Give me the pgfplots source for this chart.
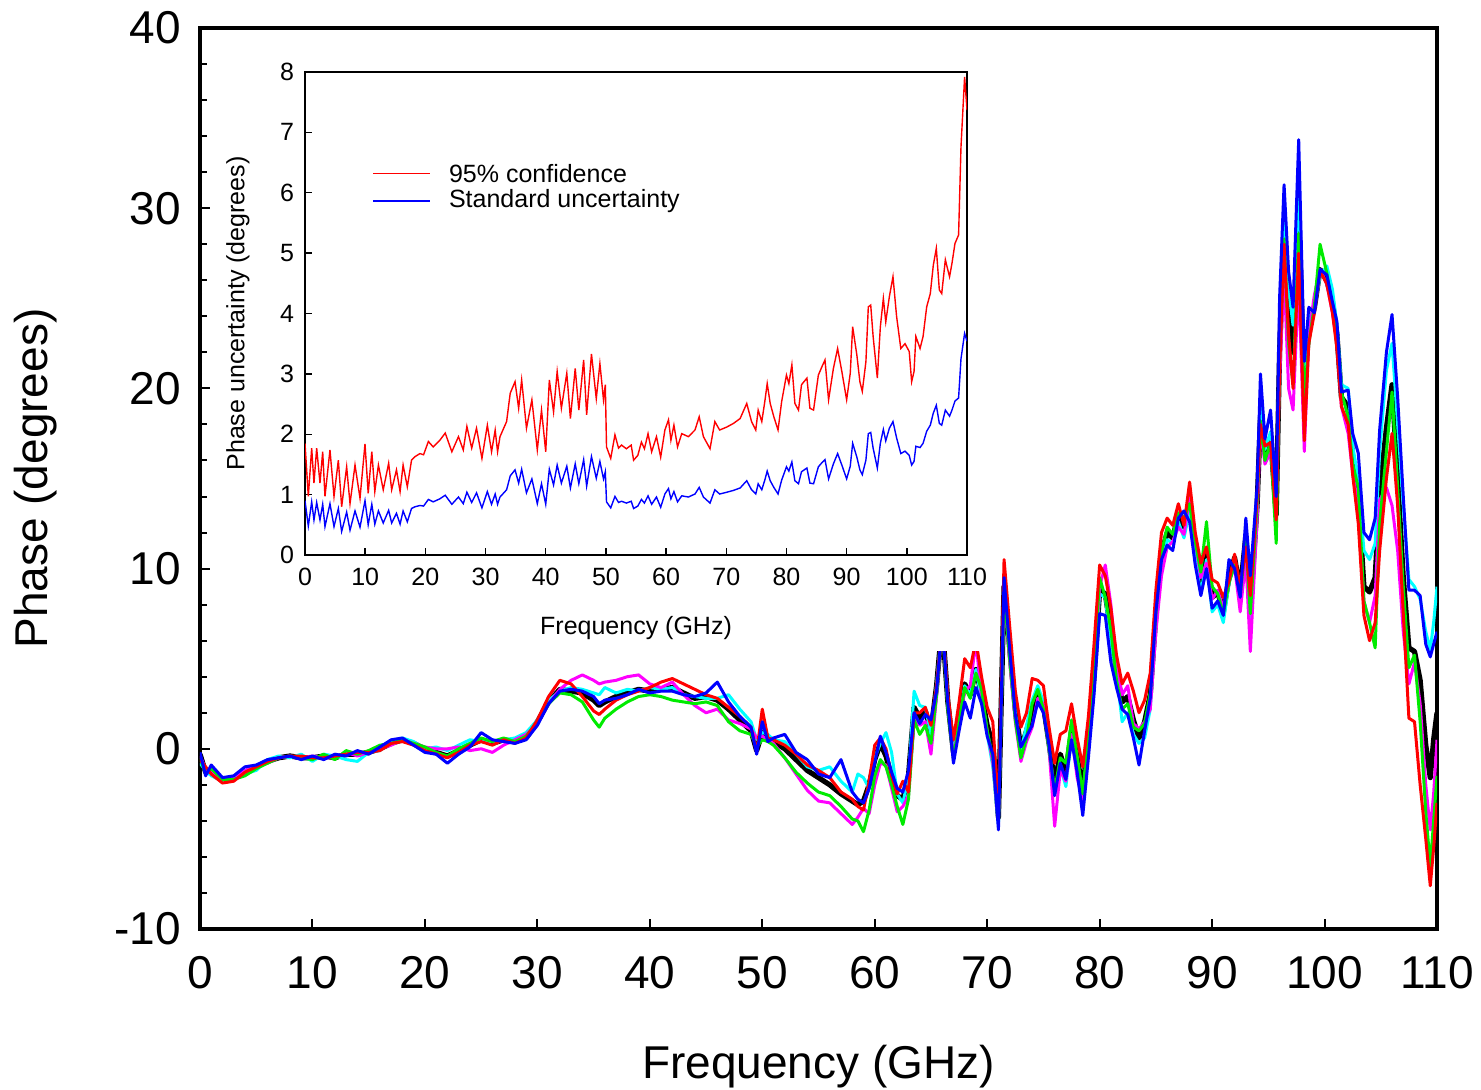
\documentclass[border=0pt]{standalone}
\usepackage{fontspec}
\setmainfont{Liberation Sans}
\usepackage{pgfplots}
\usepackage{pgfplotstable}
\pgfplotsset{compat=1.18}

\definecolor{lgreen}{RGB}{0,235,0}
\definecolor{pcyan}{RGB}{0,255,255}
\definecolor{pmag}{RGB}{255,0,255}
\definecolor{pred}{RGB}{255,0,0}
\definecolor{pblue}{RGB}{0,0,255}

% phase of the six measurements (k = mean, thick black)
\pgfplotstableread{
x k r g b c m
0 -0.3 -0.6 -0.5 -0.2 -0.8 -0.4
0.5 -1.3 -1.0 -1.4 -1.5 -1.2 -1.1
1 -1.2 -1.4 -1.1 -0.9 -1.5 -1.3
2 -1.7 -1.9 -1.7 -1.6 -1.8 -1.7
3 -1.6 -1.8 -1.7 -1.5 -1.6 -1.6
4 -1.3 -1.3 -1.5 -1.0 -1.4 -1.2
5 -1.0 -1.0 -1.1 -0.9 -1.2 -1.0
6 -0.7 -0.7 -0.8 -0.6 -0.6 -0.8
7 -0.5 -0.5 -0.5 -0.5 -0.4 -0.5
8 -0.4 -0.4 -0.4 -0.4 -0.5 -0.4
9 -0.5 -0.4 -0.5 -0.6 -0.3 -0.5
10 -0.5 -0.5 -0.6 -0.4 -0.7 -0.4
11 -0.4 -0.5 -0.3 -0.6 -0.3 -0.5
12 -0.5 -0.4 -0.6 -0.3 -0.4 -0.5
13 -0.3 -0.3 -0.1 -0.4 -0.6 -0.2
14 -0.3 -0.2 -0.3 -0.1 -0.7 -0.4
15 -0.2 -0.2 -0.1 -0.3 -0.2 -0.2
16 0.0 -0.1 0.2 0.1 -0.1 0.0
17 0.3 0.3 0.3 0.5 0.4 0.2
18 0.5 0.4 0.5 0.6 0.6 0.5
19 0.3 0.2 0.3 0.2 0.4 0.3
20 0.0 -0.1 0.1 -0.2 0.0 0.1
21 -0.2 -0.3 -0.2 -0.3 0.1 0.0
22 -0.4 -0.5 -0.4 -0.8 -0.1 0.0
23 -0.1 -0.2 0.0 -0.3 0.2 0.1
24 0.2 0.2 0.3 0.1 0.5 -0.1
25 0.5 0.4 0.6 0.9 0.4 0.0
26 0.3 0.2 0.4 0.5 0.4 -0.2
27 0.5 0.5 0.6 0.4 0.5 0.2
28 0.4 0.3 0.4 0.3 0.6 0.5
29 0.6 0.6 0.7 0.5 0.9 0.8
30 1.5 1.6 1.5 1.3 1.6 1.4
31 2.6 2.9 2.5 2.5 2.7 2.5
32 3.3 3.8 3.1 3.2 3.2 3.3
33 3.2 3.6 3.0 3.3 3.4 3.8
34 3.1 2.9 2.6 3.2 3.3 4.1
35 2.7 2.1 1.6 2.9 3.1 3.8
35.5 2.4 1.9 1.2 2.5 3.0 3.6
36 2.6 2.2 1.7 2.7 3.4 3.7
37 2.9 2.7 2.2 2.8 3.1 3.8
38 3.1 3.0 2.6 3.0 3.3 4.0
39 3.3 3.2 2.9 3.3 3.2 4.1
40 3.2 3.4 3.0 3.1 3.4 3.6
41 3.3 3.7 2.9 3.2 3.3 3.4
42 3.4 3.9 2.7 3.2 3.4 3.7
43 3.1 3.6 2.6 3.0 3.0 3.0
44 2.8 3.3 2.5 2.9 2.9 2.4
45 2.9 3.0 2.6 3.1 2.8 2.0
46 2.7 2.8 2.4 3.7 2.8 2.2
47 2.2 2.3 1.5 2.6 3.0 1.6
48 1.6 1.8 1.0 1.8 2.2 1.4
49 1.0 1.2 0.8 1.2 1.5 1.1
49.5 -0.1 -0.2 0.1 -0.3 0.5 0.6
50 0.9 2.2 0.5 1.5 0.9 0.7
50.5 0.5 0.6 0.4 0.4 0.8 0.5
51 0.4 0.5 0.2 0.6 0.5 0.3
52 0.0 0.2 -0.5 0.8 0.4 -0.5
53 -0.6 -0.3 -1.3 -0.2 -0.3 -1.4
54 -1.2 -0.9 -1.9 -0.6 -1.0 -2.3
55 -1.6 -1.2 -2.4 -1.4 -1.2 -2.9
56 -2.0 -1.6 -2.6 -1.6 -1.0 -3.0
57 -2.5 -2.4 -3.2 -0.6 -1.8 -3.6
58 -2.9 -2.8 -3.9 -2.4 -2.4 -4.2
58.5 -3.1 -3.2 -4.0 -2.8 -1.4 -3.8
59 -2.9 -3.4 -4.6 -3.0 -1.6 -3.3
59.5 -2.0 -1.8 -3.4 -2.2 -2.2 -3.6
60 -0.6 0.2 -1.5 -0.8 -0.5 -2.0
60.5 0.3 0.6 -0.6 0.7 0.3 -0.8
61 -0.4 0.0 -1.0 -0.2 0.9 -0.9
61.5 -1.6 -1.5 -2.0 -1.3 -0.2 -2.2
62 -2.6 -2.5 -3.2 -2.2 -2.5 -3.5
62.5 -2.8 -1.8 -4.2 -2.4 -3.0 -3.2
63 -1.5 -2.4 -2.8 -1.2 -1.6 -2.6
63.5 2.3 2.0 1.6 2.0 3.2 1.7
64 1.7 2.0 0.8 1.4 2.4 1.3
64.5 2.1 2.3 1.3 1.9 2.3 1.5
65 1.0 1.3 0.3 1.6 0.8 -0.3
65.5 3.5 3.5 3.0 3.2 3.6 2.9
66 7.0 7.0 7.0 7.0 7.0 7.0
66.5 2.6 3.0 2.2 2.5 2.8 2.4
67 -0.2 0.5 -0.6 -0.8 -0.3 -0.5
67.5 1.8 2.6 1.5 1.0 1.5 1.5
68 3.6 5.0 3.4 2.6 3.5 3.2
68.5 3.0 4.5 2.8 1.7 3.0 3.5
69 4.4 6.0 4.2 3.4 4.4 6.0
69.5 3.0 4.0 3.3 2.5 2.7 2.8
70 1.3 2.3 1.0 0.7 0.8 1.0
70.5 0.2 1.5 -0.5 -0.3 -1.0 -0.8
71 -3.8 -3.5 -4.0 -4.5 -4.2 -4.0
71.5 9.0 10.5 8.8 9.5 8.7 8.8
72 5.6 6.8 5.0 5.5 5.4 4.8
72.5 2.2 3.2 1.6 1.9 2.0 1.5
73 0.0 1.2 -0.5 0.1 -0.1 -0.7
73.5 1.0 2.0 0.6 0.7 1.3 0.4
74 2.1 3.9 2.5 1.3 2.7 1.2
74.5 3.0 3.8 3.3 2.6 3.5 2.8
75 2.4 3.5 2.2 2.0 2.6 2.5
75.5 0.3 1.2 0.0 0.2 0.0 0.0
76 -1.9 -0.8 -2.3 -2.6 -2.5 -4.3
76.5 -0.3 0.8 -0.5 -0.8 -1.0 -1.2
77 -1.3 1.0 -0.8 -1.7 -2.1 -1.8
77.5 1.0 2.5 1.6 0.5 0.7 0.8
78 -0.5 0.6 -0.4 -1.3 -1.1 -1.6
78.5 -2.3 -1.0 -2.5 -3.7 -2.8 -2.9
79 0.7 1.8 1.0 -0.5 0.3 0.4
79.5 4.0 5.8 4.3 3.0 3.8 4.0
80 8.8 10.2 9.5 7.5 8.6 9.0
80.5 8.6 9.6 8.4 7.4 8.4 10.2
81 6.5 7.8 6.6 4.8 5.8 8.0
81.5 4.3 5.2 3.8 3.4 4.2 4.8
82 2.6 3.6 2.2 2.2 1.5 3.0
82.5 2.9 4.2 2.5 1.9 2.0 3.5
83 1.6 3.2 1.2 0.6 0.8 1.4
83.5 0.6 2.0 1.0 -0.9 0.3 1.1
84 1.5 2.7 1.4 1.0 0.6 1.5
84.5 3.0 4.2 3.1 2.8 2.2 2.2
85 7.4 8.8 7.5 7.6 7.0 6.5
85.5 10.8 12.0 10.9 10.5 10.2 9.6
86 12.0 12.8 12.3 11.3 11.6 11.2
86.5 11.7 12.4 11.9 11.0 11.4 11.5
87 13.0 13.6 13.1 12.8 12.6 12.3
87.5 12.3 12.4 12.8 13.2 11.7 11.9
88 13.8 14.8 13.6 12.6 13.2 13.9
88.5 11.2 12.0 11.5 10.2 10.6 11.5
89 9.3 10.3 9.8 8.5 8.6 9.5
89.5 11.0 11.2 12.6 10.0 10.5 10.3
90 8.4 9.4 9.0 7.8 7.6 8.3
90.5 8.7 9.2 8.6 8.2 8.0 8.8
91 7.6 8.4 7.5 7.4 7.0 7.8
91.5 9.5 9.3 9.2 10.5 9.2 9.3
92 10.6 10.8 10.2 10.0 10.3 10.1
92.5 8.8 9.0 8.5 8.4 8.6 7.6
93 11.8 11.2 11.6 12.8 11.5 10.5
93.4 7.8 8.5 7.5 9.6 7.2 5.4
94 13.5 14.0 13.6 14.5 13.2 12.8
94.3 18.4 18.0 18.2 20.8 19.0 17.8
94.7 16.5 16.8 16.0 17.2 16.6 15.8
95.2 17.3 17.0 17.0 18.8 17.6 16.5
95.7 13.0 12.7 11.4 14.0 13.5 13.6
96 22.0 21.0 21.5 25.0 23.0 20.5
96.4 29.0 28.0 28.3 31.3 29.5 26.5
96.8 24.5 23.0 22.5 26.5 25.5 20.0
97.2 22.0 20.0 20.2 24.5 23.5 18.8
97.7 29.6 27.5 28.6 33.8 31.5 26.0
98.2 20.0 17.1 19.5 21.5 20.5 16.5
98.6 23.3 22.5 22.5 24.5 23.8 23.0
99.1 24.5 24.2 24.6 24.2 24.5 25.2
99.6 26.6 26.5 28.0 26.6 26.2 26.6
100.2 26.0 25.8 26.4 26.3 26.8 25.8
100.7 24.8 24.2 24.5 24.8 25.5 24.2
101.1 23.0 22.2 23.3 23.7 23.5 22.5
101.5 19.5 19.0 19.8 19.8 20.2 19.0
102.1 19.0 18.0 18.4 19.9 20.0 17.5
102.5 16.2 15.2 15.8 17.5 16.8 15.3
103 14.0 12.5 14.5 16.4 15.0 13.5
103.5 9.0 7.4 8.2 12.0 11.0 8.2
104 8.7 6.0 7.0 11.6 10.5 7.0
104.5 9.5 7.0 5.6 12.8 11.4 8.5
104.9 14.2 11.0 12.5 17.7 16.5 13.8
105.5 17.8 15.0 16.5 22.0 21.0 14.5
106 20.2 17.5 19.8 24.1 22.5 13.5
106.5 15.0 13.5 14.5 19.5 18.0 11.0
107 9.5 7.5 9.0 14.0 13.5 6.5
107.5 5.6 1.7 4.5 8.8 9.4 3.6
108 5.4 1.5 5.2 8.8 9.0 4.8
108.5 3.8 -2.0 1.5 8.5 8.3 2.5
109 0.2 -5.0 -3.5 5.8 6.5 -2.0
109.4 -1.6 -7.6 -6.5 5.1 5.5 -4.5
109.7 0.5 -5.5 -4.0 5.8 7.0 -2.5
110 2.0 -3.0 -1.5 6.5 9.0 0.5
}\phasedata

% inset: 95 % confidence and standard uncertainty
\pgfplotstableread{
x conf std
0.0 1.85 0.90
0.55 0.97 0.48
1.11 1.77 0.88
1.49 1.19 0.58
1.94 1.77 0.87
2.49 1.19 0.58
2.94 1.71 0.84
3.32 0.97 0.47
4.15 1.74 0.85
4.82 0.97 0.47
5.54 1.57 0.77
6.09 0.80 0.39
6.92 1.46 0.71
7.48 0.85 0.41
8.31 1.49 0.73
9.14 0.94 0.46
9.97 1.84 0.90
10.5 1.02 0.50
11.1 1.71 0.84
11.6 1.05 0.51
12.2 1.49 0.73
13.0 1.08 0.53
13.9 1.52 0.74
14.4 1.08 0.53
15.2 1.41 0.69
15.8 1.05 0.51
16.3 1.49 0.73
17.0 1.13 0.55
17.7 1.57 0.77
18.3 1.63 0.80
19.1 1.68 0.82
19.7 1.66 0.81
20.5 1.88 0.92
21.3 1.79 0.88
22.4 1.90 0.93
23.3 2.02 0.99
24.4 1.71 0.84
25.5 1.96 0.96
26.3 1.74 0.85
26.9 2.13 1.04
27.7 1.77 0.87
28.5 2.10 1.03
29.4 1.60 0.78
30.3 2.15 1.05
31.0 1.71 0.84
31.6 2.07 1.01
32.0 1.71 0.84
32.4 1.96 0.96
33.5 2.21 1.08
34.1 2.68 1.31
34.9 2.87 1.41
35.5 2.43 1.19
36.0 2.90 1.42
36.8 2.10 1.03
37.7 2.57 1.26
38.6 1.74 0.85
39.3 2.40 1.18
40.0 1.71 0.84
40.6 2.90 1.42
41.3 2.37 1.16
41.9 3.04 1.49
42.6 2.43 1.19
43.5 3.01 1.47
44.1 2.26 1.11
44.9 3.09 1.51
45.5 2.40 1.18
46.3 3.23 1.58
46.8 2.32 1.14
47.6 3.33 1.63
48.4 2.59 1.27
49.0 3.17 1.55
49.6 2.57 1.26
49.9 2.82 1.38
50.1 1.79 0.88
50.8 1.60 0.78
51.5 1.99 0.97
52.1 1.77 0.87
52.6 1.82 0.89
53.4 1.76 0.86
54.2 1.82 0.89
54.6 1.57 0.77
55.3 1.65 0.81
55.9 1.87 0.92
56.4 1.76 0.86
57.0 2.01 0.98
57.6 1.71 0.84
58.4 1.96 0.96
59.1 1.62 0.79
59.8 2.07 1.01
60.4 2.24 1.10
60.8 1.90 0.93
61.3 2.15 1.05
61.9 1.79 0.88
62.6 2.01 0.98
63.7 1.96 0.96
64.8 2.07 1.01
65.5 2.29 1.12
66.2 1.96 0.96
67.3 1.76 0.86
68.1 2.21 1.08
68.9 2.07 1.01
70.1 2.12 1.04
71.2 2.18 1.07
72.3 2.26 1.11
73.4 2.51 1.23
74.2 2.21 1.08
74.9 2.07 1.01
75.3 2.40 1.18
75.9 2.21 1.08
76.4 2.54 1.24
76.8 2.84 1.39
77.3 2.51 1.23
77.9 2.29 1.12
78.6 2.07 1.01
79.2 2.54 1.24
80.0 2.98 1.46
80.4 2.84 1.39
80.9 3.15 1.54
81.4 2.51 1.23
82.0 2.40 1.18
82.5 2.82 1.38
83.4 2.93 1.44
83.9 2.43 1.19
84.5 2.40 1.18
85.3 2.98 1.46
85.9 3.12 1.53
86.4 3.23 1.58
87.0 2.57 1.26
87.8 3.09 1.51
88.5 3.42 1.68
89.2 3.04 1.49
90.0 2.57 1.26
90.6 3.01 1.47
91.0 3.78 1.85
91.7 3.31 1.62
92.2 2.87 1.41
92.6 2.71 1.33
93.2 3.20 1.57
93.6 4.11 2.01
94.0 4.14 2.03
94.4 3.62 1.77
95.1 2.93 1.44
95.6 3.78 1.85
96.1 4.25 2.08
96.5 3.86 1.89
97.1 4.28 2.10
97.7 4.61 2.21
98.3 3.95 1.94
99.0 3.42 1.68
99.7 3.50 1.72
100.4 3.37 1.65
100.8 2.87 1.49
101.2 3.04 1.55
101.5 3.62 1.80
102.2 3.42 1.78
102.7 3.62 1.85
103.3 4.11 2.05
103.9 4.33 2.15
104.4 4.80 2.35
104.9 5.08 2.48
105.4 4.39 2.18
105.8 4.33 2.15
106.4 4.89 2.40
107.1 4.61 2.30
107.5 4.83 2.40
108.0 5.16 2.55
108.6 5.30 2.60
109.0 6.76 3.25
109.6 7.92 3.67
110.0 7.37 3.54
}\uncdata

\begin{document}
\begin{tikzpicture}

\begin{axis}[
  at={(0,0)}, anchor=south west,
  scale only axis, width=618.5pt, height=450.5pt,
  xmin=0, xmax=110, ymin=-10, ymax=40,
  xtick={0,10,...,110}, ytick={-10,0,...,40},
  minor y tick num=4,
  tick align=inside, xtick pos=bottom, ytick pos=left,
  major tick length=5pt, minor tick length=3.5pt,
  axis line style={line width=2pt},
  every tick/.style={black, line width=1pt},
  /pgf/number format/assume math mode=true,
  tick label style={font=\fontsize{23}{27}\selectfont},
  xticklabel style={yshift=-10pt},
  yticklabel style={xshift=-6pt},
  xlabel={Frequency (GHz)},
  ylabel={Phase (degrees)},
  label style={font=\fontsize{23}{27}\selectfont},
  xlabel style={at={(axis description cs:0.5,0)}, anchor=center, yshift=-69pt},
  ylabel style={at={(axis description cs:0,0.5)}, anchor=center, yshift=82pt},
  every axis plot/.append style={line join=round},
]
\addplot[black, line width=2.6pt] table[x=x, y=k] {\phasedata};
\addplot[pcyan, line width=1.5pt] table[x=x, y=c] {\phasedata};
\addplot[pmag, line width=1.5pt] table[x=x, y=m] {\phasedata};
\addplot[lgreen, line width=1.5pt] table[x=x, y=g] {\phasedata};
\addplot[pred, line width=1.5pt] table[x=x, y=r] {\phasedata};
\addplot[pblue, line width=1.5pt] table[x=x, y=b] {\phasedata};
\end{axis}

% white backing of the inset and its labels
\fill[white] (7.5pt,139pt) rectangle (396pt,444pt);

\begin{axis}[
  at={(52.5pt,187pt)}, anchor=south west,
  scale only axis, width=331pt, height=241.5pt,
  xmin=0, xmax=110, ymin=0, ymax=8,
  xtick={0,10,...,110}, ytick={0,1,...,8},
  tick align=inside, xtick pos=bottom, ytick pos=left,
  major tick length=3.5pt,
  axis line style={line width=0.9pt},
  every tick/.style={black, line width=0.7pt},
  /pgf/number format/assume math mode=true,
  tick label style={font=\fontsize{12.5}{14}\selectfont},
  xticklabel style={yshift=-3pt},
  yticklabel style={xshift=-2pt},
  xlabel={Frequency (GHz)},
  ylabel={Phase uncertainty (degrees)},
  label style={font=\fontsize{12.5}{14}\selectfont},
  xlabel style={at={(axis description cs:0.5,0)}, anchor=center, yshift=-36.5pt},
  ylabel style={at={(axis description cs:0,0.5)}, anchor=center, yshift=33.5pt},
]
\addplot[pred, line width=0.7pt] table[x=x, y=conf] {\uncdata};
\addplot[pblue, line width=0.7pt] table[x=x, y=std] {\uncdata};
\draw[pred, line width=0.7pt] (rel axis cs:0.103,0.79) -- (rel axis cs:0.189,0.79);
\node[anchor=west, inner sep=0pt, font=\fontsize{12.5}{14}\selectfont]
  at (rel axis cs:0.217,0.79) {95\% confidence};
\draw[pblue, line width=0.7pt] (rel axis cs:0.103,0.733) -- (rel axis cs:0.189,0.733);
\node[anchor=west, inner sep=0pt, font=\fontsize{12.5}{14}\selectfont]
  at (rel axis cs:0.217,0.733) {Standard uncertainty};
\end{axis}

\pgfresetboundingbox
\useasboundingbox (-100pt,-80.5pt) rectangle (640.5pt,464.5pt);
\end{tikzpicture}
\end{document}
